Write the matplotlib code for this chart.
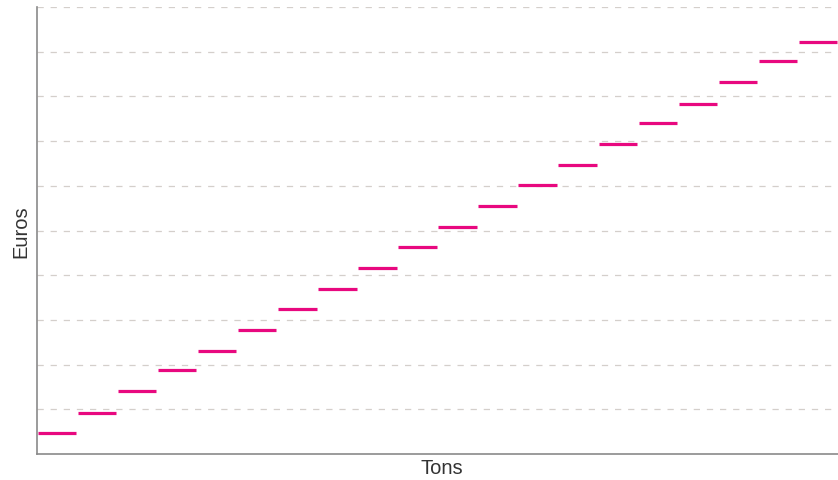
import matplotlib
matplotlib.use('Agg')
import matplotlib.pyplot as plt

# price bands: each ton band [start, end) has a flat price
ton_start = list(range(0, 20))
ton_end = list(range(1, 21))
euros = [4.63, 9.32, 14.08, 18.77, 23.18, 27.87, 32.57, 37.04, 41.73, 46.42,
         50.89, 55.59, 60.28, 64.75, 69.29, 73.98, 78.39, 83.15, 87.84, 92.18]
grid_levels = [10, 20, 30, 40, 50, 60, 70, 80, 90, 100]

plt.rcParams['font.family'] = ['Liberation Sans', 'DejaVu Sans']

fig = plt.figure(figsize=(8.38, 4.81), dpi=100)
ax = fig.add_axes([37 / 838, 25.8 / 481, 801 / 838, 447.2 / 481])

# dashed horizontal guides
for g in grid_levels:
    ax.axhline(g, color='#d4cfcb', linewidth=0.9, linestyle=(0, (5, 5.5)), zorder=1)

# one flat segment per band
ax.hlines(euros, [s + 0.02 for s in ton_start], [e - 0.02 for e in ton_end],
          color='#e8087f', linewidth=2.3, zorder=3)

ax.set_xlim(0, 20)
ax.set_ylim(0, 100)
ax.set_xticks([])
ax.set_yticks([])

for side in ['top', 'right']:
    ax.spines[side].set_visible(False)
for side in ['left', 'bottom']:
    ax.spines[side].set_color('#8a8a8a')
    ax.spines[side].set_linewidth(1.2)

ax.set_xlabel('Tons', fontsize=14.5, color='#333333', labelpad=3)
ax.xaxis.label.set_x(0.505)
ax.set_ylabel('Euros', fontsize=14.5, color='#333333', labelpad=5)

fig.savefig('out.png', dpi=100)
